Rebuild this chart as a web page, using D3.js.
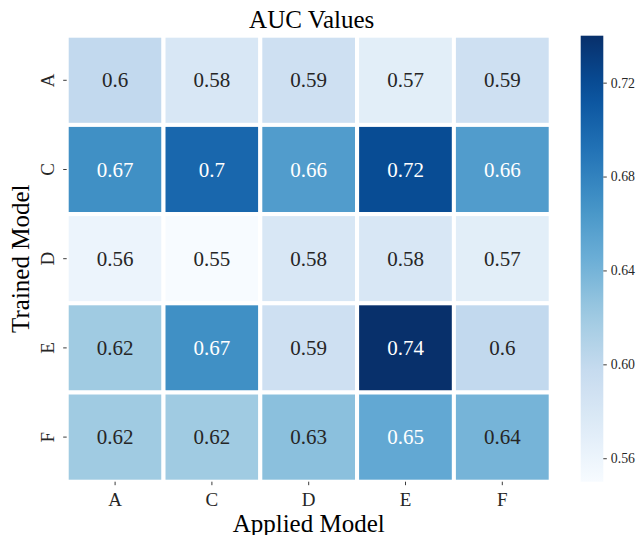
<!DOCTYPE html>
<html>
<head>
<meta charset="utf-8">
<script src="https://cdn.jsdelivr.net/npm/d3@7"></script>
<style>
  html, body { margin: 0; padding: 0; background: #fff; }
  svg { display: block; }
  text { font-family: "Liberation Serif", "Times New Roman", serif; }
</style>
</head>
<body>
<svg id="chart" width="639" height="535"></svg>
<script>
// Applied models along x, trained models along y
const appliedModels = ["A", "C", "D", "E", "F"];
const trainedModels = ["A", "C", "D", "E", "F"];

// AUC for each trained model (row) applied to each model (column)
const aucA = [0.60, 0.58, 0.59, 0.57, 0.59];
const aucC = [0.67, 0.70, 0.66, 0.72, 0.66];
const aucD = [0.56, 0.55, 0.58, 0.58, 0.57];
const aucE = [0.62, 0.67, 0.59, 0.74, 0.60];
const aucF = [0.62, 0.62, 0.63, 0.65, 0.64];
const aucRows = [aucA, aucC, aucD, aucE, aucF];

const colorbarTicks = [0.56, 0.60, 0.64, 0.68, 0.72];

const svg = d3.select("#chart");

const grid = { left: 66.7, right: 550.7, top: 35.7, bottom: 481.7 };

const x = d3.scaleBand().domain(appliedModels).range([grid.left, grid.right]);
const y = d3.scaleBand().domain(trainedModels).range([grid.top, grid.bottom]);

const cells = [];
trainedModels.forEach((t, i) => {
  appliedModels.forEach((a, j) => cells.push({ trained: t, applied: a, value: aucRows[i][j] }));
});
const allVals = cells.map(d => d.value);
const vmin = d3.min(allVals), vmax = d3.max(allVals);

// Piecewise-linear Blues ramp
const bluesStops = ["#f7fbff", "#deebf7", "#c6dbef", "#9ecae1", "#6baed6",
                    "#4292c6", "#2171b5", "#08519c", "#08306b"];
const blues = d3.scaleLinear()
  .domain(d3.range(bluesStops.length).map(i => i / (bluesStops.length - 1)))
  .range(bluesStops)
  .interpolate(d3.interpolateRgb);
const norm = d3.scaleLinear().domain([vmin, vmax]).range([0, 1]).clamp(true);
const color = v => blues(norm(v));

function luminance(c) {
  const rgb = d3.rgb(c);
  const f = v => { v /= 255; return v <= 0.03928 ? v / 12.92 : Math.pow((v + 0.055) / 1.055, 2.4); };
  return 0.2126 * f(rgb.r) + 0.7152 * f(rgb.g) + 0.0722 * f(rgb.b);
}

// Cells
svg.append("g").selectAll("rect")
  .data(cells)
  .join("rect")
  .attr("x", d => x(d.applied))
  .attr("y", d => y(d.trained))
  .attr("width", x.bandwidth())
  .attr("height", y.bandwidth())
  .attr("fill", d => color(d.value))
  .attr("stroke", "#fff")
  .attr("stroke-width", 4);

// Annotations
svg.append("g").selectAll("text")
  .data(cells)
  .join("text")
  .attr("x", d => x(d.applied) + x.bandwidth() / 2)
  .attr("y", d => y(d.trained) + y.bandwidth() / 2)
  .attr("text-anchor", "middle")
  .attr("dominant-baseline", "central")
  .attr("font-size", 21)
  .attr("fill", d => luminance(color(d.value)) > 0.408 ? "#262626" : "#ffffff")
  .text(d => String(+d.value.toFixed(2)));

// X axis
const xAxis = svg.append("g")
  .attr("transform", `translate(0,${grid.bottom})`)
  .call(d3.axisBottom(x).tickSize(3.5).tickPadding(7));
xAxis.select(".domain").remove();
xAxis.selectAll("line").attr("stroke", "#262626").attr("stroke-width", 0.9);
xAxis.selectAll("text").attr("font-size", 19).attr("fill", "#262626")
  .attr("font-family", "Liberation Serif, serif");

// Y axis (labels rotated)
const yAxis = svg.append("g")
  .attr("transform", `translate(${grid.left},0)`)
  .call(d3.axisLeft(y).tickSize(3.5).tickPadding(7));
yAxis.select(".domain").remove();
yAxis.selectAll("line").attr("stroke", "#262626").attr("stroke-width", 0.9);
yAxis.selectAll("text")
  .attr("font-size", 19).attr("fill", "#262626")
  .attr("font-family", "Liberation Serif, serif")
  .attr("text-anchor", "middle")
  .attr("dy", null)
  .attr("x", null)
  .attr("transform", "translate(-19,0) rotate(-90)")
  .attr("dominant-baseline", "central");

// Title and axis titles
svg.append("text")
  .attr("x", (grid.left + grid.right) / 2 + 3)
  .attr("y", 27.5)
  .attr("text-anchor", "middle")
  .attr("font-size", 25)
  .attr("fill", "#000")
  .text("AUC Values");

svg.append("text")
  .attr("x", (grid.left + grid.right) / 2)
  .attr("y", 532)
  .attr("text-anchor", "middle")
  .attr("font-size", 25)
  .attr("fill", "#000")
  .text("Applied Model");

svg.append("text")
  .attr("transform", `translate(29,${(grid.top + grid.bottom) / 2}) rotate(-90)`)
  .attr("text-anchor", "middle")
  .attr("font-size", 25)
  .attr("fill", "#000")
  .text("Trained Model");

// Colorbar
const cb = { x: 580.7, width: 22.6, top: grid.top, bottom: grid.bottom };
const cbScale = d3.scaleLinear().domain([vmin, vmax]).range([cb.bottom, cb.top]);

const defs = svg.append("defs");
const grad = defs.append("linearGradient")
  .attr("id", "cbGrad")
  .attr("x1", "0").attr("y1", "1").attr("x2", "0").attr("y2", "0");
d3.range(0, 1.0001, 0.05).forEach(t => {
  grad.append("stop").attr("offset", t).attr("stop-color", blues(t));
});
svg.append("rect")
  .attr("x", cb.x).attr("y", cb.top)
  .attr("width", cb.width).attr("height", cb.bottom - cb.top)
  .attr("fill", "url(#cbGrad)");

const cbAxis = svg.append("g")
  .attr("transform", `translate(${cb.x + cb.width},0)`)
  .call(d3.axisRight(cbScale).tickValues(colorbarTicks).tickFormat(d3.format(".2f"))
    .tickSize(3.5).tickPadding(4));
cbAxis.select(".domain").remove();
cbAxis.selectAll("line").attr("stroke", "#262626").attr("stroke-width", 0.9);
cbAxis.selectAll("text").attr("font-size", 13.8).attr("fill", "#262626")
  .attr("font-family", "Liberation Serif, serif");
</script>
</body>
</html>
